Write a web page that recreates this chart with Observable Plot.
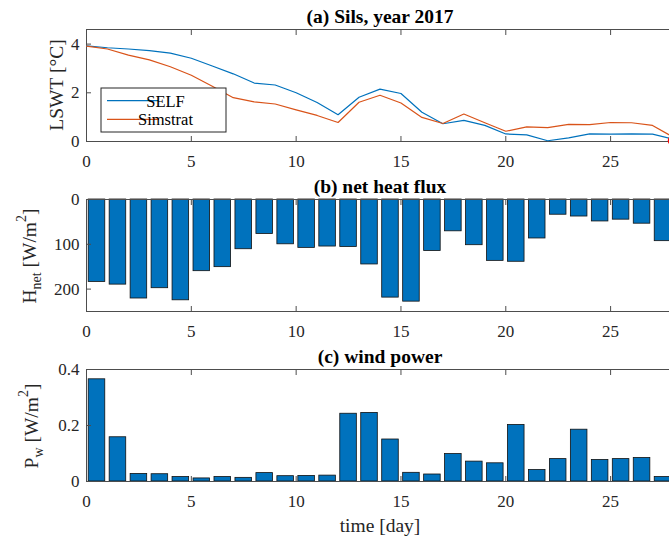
<!DOCTYPE html>
<html>
<head>
<meta charset="utf-8">
<script src="https://cdn.jsdelivr.net/npm/d3@7"></script>
<script src="https://cdn.jsdelivr.net/npm/@observablehq/plot@0.6"></script>
<style>
  body { margin: 0; background: #fff; }
  #fig { width: 669px; height: 537px; overflow: hidden; position: relative; background: #fff; }
  #fig svg { display: block; max-width: none !important; font-family: "Liberation Serif", "Times New Roman", serif; }
  #fig svg text { font-family: "Liberation Serif", "Times New Roman", serif; }
</style>
</head>
<body>
<div id="fig"></div>
<script>
// Lake surface water temperature, daily values
const days = [0, 1, 2, 3, 4, 5, 6, 7, 8, 9, 10, 11, 12, 13, 14, 15, 16, 17, 18, 19, 20, 21, 22, 23, 24, 25, 26, 27, 28];
const selfTemp = [3.93, 3.85, 3.8, 3.73, 3.63, 3.42, 3.1, 2.78, 2.4, 2.32, 2.0, 1.6, 1.1, 1.82, 2.15, 1.97, 1.2, 0.73, 0.87, 0.66, 0.31, 0.27, 0.03, 0.15, 0.31, 0.3, 0.31, 0.3, 0.1];
const simstratTemp = [3.92, 3.8, 3.55, 3.35, 3.07, 2.72, 2.27, 1.8, 1.63, 1.54, 1.3, 1.07, 0.78, 1.61, 1.9, 1.58, 0.99, 0.74, 1.13, 0.77, 0.42, 0.6, 0.57, 0.7, 0.69, 0.78, 0.77, 0.66, 0.17];
const obsDay = [28];
const obsTemp = [0.04];

// Daily means (bars centred on each day)
const barDays = [0.5, 1.5, 2.5, 3.5, 4.5, 5.5, 6.5, 7.5, 8.5, 9.5, 10.5, 11.5, 12.5, 13.5, 14.5, 15.5, 16.5, 17.5, 18.5, 19.5, 20.5, 21.5, 22.5, 23.5, 24.5, 25.5, 26.5, 27.5];
const heatFlux = [184, 190, 221, 198, 225, 160, 151, 111, 77, 100, 108, 105, 106, 145, 219, 228, 115, 71, 102, 137, 139, 87, 34, 38, 49, 45, 54, 93];
const windPower = [0.365, 0.158, 0.027, 0.026, 0.016, 0.011, 0.016, 0.013, 0.03, 0.019, 0.02, 0.021, 0.242, 0.245, 0.15, 0.031, 0.025, 0.098, 0.071, 0.065, 0.202, 0.041, 0.08, 0.185, 0.077, 0.08, 0.084, 0.016];

// Ticks and labels
const xTicks = [0, 5, 10, 15, 20, 25];
const tempTicks = [0, 2, 4];
const fluxTicks = [0, 100, 200];
const windTicks = [0, 0.2, 0.4];
const panelTitles = ["(a) Sils, year 2017", "(b) net heat flux", "(c) wind power"];
const seriesNames = ["SELF", "Simstrat"];
const xLabel = "time [day]";

const BLUE = "#0072BD", ORANGE = "#D95319", INK = "#262626", FRAME = "#4d4d4d";
const FONT = "Liberation Serif, Times New Roman, serif";
const W = 673, LEFT = 86;

const tempRows = days.map((d, i) => ({day: d, self: selfTemp[i], simstrat: simstratTemp[i]}));
const fluxRows = barDays.map((d, i) => ({day: d, value: heatFlux[i]}));
const windRows = barDays.map((d, i) => ({day: d, value: windPower[i]}));
const obsRows = obsDay.map((d, i) => ({day: d, value: obsTemp[i]}));

const baseStyle = {fontFamily: FONT, fontSize: "17px", color: INK, background: "#fff", maxWidth: "none"};

// Boxed axes with inward ticks on all four sides
function boxAxes(yTicks) {
  const fmt = d => String(d);
  return [
    Plot.frame({stroke: FRAME, strokeWidth: 1}),
    Plot.axisX({anchor: "bottom", ticks: xTicks, tickSize: 0, tickPadding: 13, label: null, fontSize: 17, fontFamily: FONT, tickFormat: fmt}),
    Plot.axisX({anchor: "bottom", ticks: xTicks, tickSize: -5, tickFormat: () => "", label: null, stroke: FRAME}),
    Plot.axisX({anchor: "top", ticks: xTicks, tickSize: -5, tickFormat: () => "", label: null, stroke: FRAME}),
    Plot.axisY({anchor: "left", ticks: yTicks, tickSize: 0, tickPadding: 7, label: null, fontSize: 17, fontFamily: FONT, tickFormat: fmt}),
    Plot.axisY({anchor: "left", ticks: yTicks, tickSize: -5, tickFormat: () => "", label: null, stroke: FRAME}),
    Plot.axisY({anchor: "right", ticks: yTicks, tickSize: -5, tickFormat: () => "", label: null, stroke: FRAME})
  ];
}

function title(t) {
  return Plot.text([t], {frameAnchor: "top", dy: -7, lineAnchor: "bottom", fontWeight: "bold", fontSize: 19.5, fontFamily: FONT, fill: "#000"});
}

// Rotated y label with optional sub/superscript pieces
function yLabel(svg, x, y, parts) {
  const t = d3.select(svg).append("text")
    .attr("transform", `translate(${x},${y}) rotate(-90)`)
    .attr("text-anchor", "middle")
    .style("font-family", FONT)
    .attr("font-size", 19.5)
    .attr("fill", INK);
  let offset = 0;
  for (const [s, kind] of parts) {
    const target = kind === "sub" ? 5 : kind === "sup" ? -10 : 0;
    t.append("tspan")
      .attr("dy", target - offset)
      .attr("font-size", kind ? 14 : 19.5)
      .text(s);
    offset = target;
  }
}

const fig = document.getElementById("fig");

// (a) temperature
const panelA = Plot.plot({
  width: W, height: 170,
  marginTop: 29, marginBottom: 29, marginLeft: LEFT, marginRight: 0,
  style: baseStyle,
  x: {domain: [0, 28]},
  y: {domain: [0, 4.6]},
  marks: [
    ...boxAxes(tempTicks),
    Plot.line(tempRows, {x: "day", y: "self", stroke: BLUE, strokeWidth: 1.2}),
    Plot.line(tempRows, {x: "day", y: "simstrat", stroke: ORANGE, strokeWidth: 1.2}),
    Plot.dot(obsRows, {x: "day", y: "value", r: 5, fill: "#ff0000", stroke: "#ff0000"}),
    title(panelTitles[0])
  ]
});
fig.appendChild(panelA);
yLabel(panelA, 63, 85, [["LSWT [°C]", ""]]);

// legend box
{
  const g = d3.select(panelA).append("g").style("font-family", FONT).attr("font-size", 16.5).attr("fill", "#000");
  g.append("rect").attr("x", 101).attr("y", 88).attr("width", 125).attr("height", 44)
    .attr("fill", "#fff").attr("stroke", INK).attr("stroke-width", 1);
  const colors = [BLUE, ORANGE];
  const rowsY = [100.7, 119.3];
  seriesNames.forEach((name, i) => {
    g.append("line").attr("x1", 107).attr("x2", 159).attr("y1", rowsY[i]).attr("y2", rowsY[i])
      .attr("stroke", colors[i]).attr("stroke-width", 1.2);
    g.append("text").attr("x", 165.5).attr("y", rowsY[i] + 6).text(name);
  });
}

// (b) net heat flux, positive downward
const panelB = Plot.plot({
  width: W, height: 170,
  marginTop: 29, marginBottom: 29, marginLeft: LEFT, marginRight: 0,
  style: baseStyle,
  x: {domain: [0, 28]},
  y: {domain: [0, 250], reverse: true},
  marks: [
    Plot.rectY(fluxRows, {x: "day", interval: 1, y: "value", fill: BLUE, stroke: "#111", strokeWidth: 0.8, insetLeft: 2.2, insetRight: 2.2}),
    ...boxAxes(fluxTicks),
    title(panelTitles[1])
  ]
});
fig.appendChild(panelB);
yLabel(panelB, 36, 86, [["H", ""], ["net", "sub"], [" [W/m", ""], ["2", "sup"], ["]", ""]]);

// (c) wind power
const panelC = Plot.plot({
  width: W, height: 197,
  marginTop: 29, marginBottom: 56, marginLeft: LEFT, marginRight: 0,
  style: baseStyle,
  x: {domain: [0, 28]},
  y: {domain: [0, 0.4]},
  marks: [
    Plot.rectY(windRows, {x: "day", interval: 1, y: "value", fill: BLUE, stroke: "#111", strokeWidth: 0.8, insetLeft: 2.2, insetRight: 2.2}),
    ...boxAxes(windTicks),
    title(panelTitles[2]),
    Plot.text([xLabel], {frameAnchor: "bottom", dy: 50, lineAnchor: "bottom", fontSize: 19.5, fontFamily: FONT, fill: INK})
  ]
});
fig.appendChild(panelC);
yLabel(panelC, 38, 86, [["P", ""], ["w", "sub"], [" [W/m", ""], ["2", "sup"], ["]", ""]]);
</script>
</body>
</html>
